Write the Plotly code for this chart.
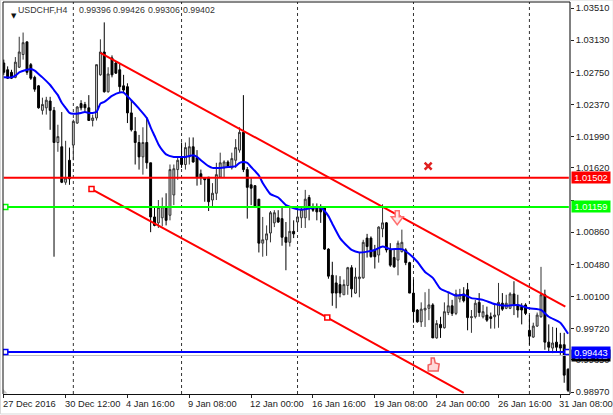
import plotly.graph_objects as go

opens = [1.0286,1.0278,1.0275,1.0269,1.0281,1.0296,1.0311,1.0284,1.0269,1.0259,
1.0230,1.0233,1.0241,1.0230,1.0192,1.0187,1.0145,1.0171,1.0189,1.0215,
1.0238,1.0237,1.0233,1.0218,1.0221,1.0272,1.0299,1.0252,1.0292,1.0286,
1.0278,1.0259,1.0258,1.0227,1.0205,1.0192,1.0175,1.0192,1.0168,1.0104,
1.0097,1.0103,1.0116,1.0106,1.0130,1.0160,1.0174,1.0166,1.0175,1.0187,
1.0174,1.0155,1.0150,1.0151,1.0124,1.0132,1.0151,1.0162,1.0169,1.0162,
1.0171,1.0183,1.0204,1.0160,1.0142,1.0141,1.0125,1.0073,1.0077,1.0085,
1.0097,1.0103,1.0102,1.0080,1.0074,1.0087,1.0098,1.0103,1.0103,1.0127,
1.0116,1.0116,1.0116,1.0115,1.0066,1.0035,1.0026,1.0024,1.0012,1.0023,
1.0044,1.0014,1.0031,1.0032,1.0079,1.0079,1.0065,1.0059,1.0090,1.0097,
1.0065,1.0056,1.0053,1.0063,1.0065,1.0050,1.0014,0.9994,0.9980,0.9994,
0.9996,1.0000,0.9961,0.9977,0.9973,0.9991,0.9999,0.9990,1.0007,1.0013,
1.0018,0.9985,0.9986,1.0003,0.9986,0.9988,0.9986,0.9986,0.9988,1.0002,
0.9996,0.9996,1.0013,1.0000,0.9998,1.0000,0.9970,0.9962,0.9975,0.9986,
1.0012,0.9956,0.9949,0.9956,0.9953,0.9953,0.9924]
highs = [1.0290,1.0282,1.0278,1.0293,1.0317,1.0322,1.0311,1.0286,1.0271,1.0260,
1.0245,1.0246,1.0246,1.0234,1.0213,1.0228,1.0194,1.0186,1.0219,1.0235,
1.0242,1.0240,1.0248,1.0225,1.0284,1.0314,1.0334,1.0281,1.0295,1.0288,
1.0286,1.0272,1.0262,1.0242,1.0222,1.0201,1.0210,1.0222,1.0168,1.0116,
1.0124,1.0127,1.0132,1.0166,1.0166,1.0174,1.0192,1.0192,1.0198,1.0198,
1.0183,1.0160,1.0151,1.0151,1.0144,1.0168,1.0180,1.0171,1.0171,1.0180,
1.0196,1.0210,1.0248,1.0163,1.0151,1.0141,1.0125,1.0104,1.0094,1.0111,
1.0112,1.0112,1.0116,1.0098,1.0116,1.0100,1.0115,1.0116,1.0136,1.0130,
1.0120,1.0120,1.0119,1.0115,1.0067,1.0051,1.0035,1.0034,1.0030,1.0045,
1.0047,1.0044,1.0062,1.0077,1.0084,1.0081,1.0071,1.0093,1.0119,1.0098,
1.0073,1.0065,1.0076,1.0089,1.0067,1.0051,1.0030,0.9995,1.0003,1.0015,
1.0019,1.0002,0.9982,0.9986,1.0003,1.0014,1.0006,1.0018,1.0019,1.0021,
1.0026,0.9994,1.0006,1.0014,1.0000,0.9998,0.9991,1.0002,1.0026,1.0014,
1.0012,1.0015,1.0028,1.0012,1.0002,1.0002,0.9988,0.9979,0.9991,1.0045,
1.0018,0.9977,0.9974,0.9973,0.9967,0.9967,0.9925]
lows = [1.0272,1.0267,1.0267,1.0268,1.0280,1.0290,1.0272,1.0266,1.0252,1.0232,
1.0225,1.0225,1.0207,1.0057,1.0181,1.0144,1.0142,1.0142,1.0171,1.0214,
1.0230,1.0228,1.0218,1.0211,1.0218,1.0271,1.0251,1.0251,1.0269,1.0273,
1.0251,1.0251,1.0215,1.0205,1.0166,1.0160,1.0154,1.0161,1.0086,1.0093,
1.0091,1.0093,1.0094,1.0100,1.0118,1.0148,1.0162,1.0160,1.0166,1.0168,
1.0141,1.0142,1.0122,1.0111,1.0115,1.0124,1.0150,1.0151,1.0162,1.0160,
1.0162,1.0180,1.0157,1.0102,1.0118,1.0116,1.0062,1.0057,1.0058,1.0074,
1.0092,1.0097,1.0070,1.0041,1.0069,1.0079,1.0087,1.0091,1.0091,1.0100,
1.0110,1.0100,1.0097,1.0065,1.0031,0.9999,0.9996,1.0009,1.0012,1.0012,
1.0009,1.0013,1.0009,1.0031,1.0056,1.0056,1.0043,1.0050,1.0080,1.0062,
1.0045,1.0044,1.0035,1.0062,1.0047,1.0014,0.9979,0.9979,0.9974,0.9974,
0.9982,0.9961,0.9960,0.9961,0.9972,0.9988,0.9987,0.9988,1.0003,1.0003,
0.9970,0.9967,0.9984,0.9986,0.9984,0.9980,0.9972,0.9972,0.9973,0.9993,
0.9995,0.9995,0.9988,0.9985,0.9977,0.9988,0.9953,0.9961,0.9974,0.9985,
0.9947,0.9945,0.9943,0.9945,0.9941,0.9908,0.9897]
closes = [1.0275,1.0268,1.0268,1.0287,1.0299,1.0310,1.0275,1.0268,1.0255,1.0233,
1.0237,1.0242,1.0230,1.0192,1.0199,1.0145,1.0150,1.0149,1.0217,1.0234,
1.0233,1.0233,1.0218,1.0221,1.0284,1.0299,1.0252,1.0273,1.0272,1.0274,
1.0258,1.0254,1.0227,1.0207,1.0192,1.0175,1.0192,1.0168,1.0104,1.0094,
1.0115,1.0116,1.0100,1.0160,1.0161,1.0171,1.0166,1.0186,1.0187,1.0169,
1.0151,1.0151,1.0148,1.0122,1.0132,1.0154,1.0168,1.0169,1.0163,1.0173,
1.0186,1.0204,1.0160,1.0139,1.0138,1.0117,1.0073,1.0077,1.0084,1.0109,
1.0109,1.0098,1.0080,1.0074,1.0087,1.0084,1.0104,1.0113,1.0125,1.0115,
1.0112,1.0110,1.0110,1.0066,1.0034,1.0014,1.0014,1.0014,1.0024,1.0044,
1.0019,1.0033,1.0033,1.0074,1.0069,1.0057,1.0057,1.0092,1.0097,1.0065,
1.0047,1.0045,1.0073,1.0074,1.0050,1.0014,0.9992,0.9980,0.9995,0.9996,
1.0000,0.9961,0.9978,0.9973,0.9992,0.9999,0.9990,1.0013,1.0012,1.0005,
0.9985,0.9986,1.0002,0.9991,0.9992,0.9982,0.9984,0.9988,1.0003,0.9995,
1.0002,1.0013,1.0000,0.9994,0.9994,0.9990,0.9963,0.9975,0.9988,1.0012,
0.9956,0.9950,0.9955,0.9950,0.9949,0.9917,0.9899]
bars = list(range(len(opens)))

ma_bars = [0,2,3,4,6,7,8,9,10,12,13,14,15,16,17,18,20,21,22,23,24,25,26,28,30,31,33,35,37,38,39,40,41,42,44,46,47,48,49,50,51,53,54,56,58,60,61,62,63,64,66,67,68,69,71,73,74,76,78,80,82,83,84,85,87,89,90,92,94,96,98,100,103,105,107,109,111,113,115,117,119,121,124,127,130,133,136,139,141,144,146]
ma_vals = [1.0269,1.0269,1.0271,1.0275,1.0278,1.0279,1.0277,1.0273,1.0269,1.0260,1.0254,1.0248,1.0239,1.0233,1.0227,1.0226,1.0227,1.0228,1.0227,1.0227,1.0228,1.0238,1.0240,1.0247,1.0251,1.0251,1.0242,1.0232,1.0221,1.0210,1.0200,1.0190,1.0183,1.0178,1.0175,1.0175,1.0175,1.0176,1.0177,1.0175,1.0171,1.0164,1.0162,1.0162,1.0163,1.0164,1.0168,1.0169,1.0168,1.0163,1.0153,1.0144,1.0137,1.0131,1.0127,1.0118,1.0116,1.0113,1.0113,1.0115,1.0115,1.0111,1.0105,1.0096,1.0079,1.0069,1.0065,1.0062,1.0063,1.0065,1.0069,1.0066,1.0066,1.0060,1.0051,1.0039,1.0032,1.0019,1.0015,1.0011,1.0012,1.0008,1.0006,1.0001,0.9999,1.0000,0.9996,0.9994,0.9986,0.9979,0.9966]

upper_bars = [25, 145.3]
upper_vals = [1.0298, 0.9998]
lower_bars = [22.7, 83.7, 119]
lower_vals = [1.0137, 0.9985, 0.9896]

red_level = 1.01502
green_level = 1.01159
blue_level = 0.99443
last_price = 0.99402

x_tick_bars = [0,16,32,48,64,80,96,112,128,144]
x_tick_text = ["27 Dec 2016","30 Dec 12:00","4 Jan 16:00","9 Jan 08:00","12 Jan 00:00",
               "16 Jan 16:00","19 Jan 08:00","24 Jan 00:00","26 Jan 16:00","31 Jan 08:00"]
y_ticks = [1.0351,1.0313,1.0275,1.0237,1.0199,1.0162,1.0124,1.0086,1.0048,1.0010,0.9972,0.9935,0.9897]
y_tick_text = ["1.03510","1.03130","1.02750","1.02370","1.01990","1.01620","","1.00860","1.00480","1.00100","0.99720","0.99350","0.98970"]
separator_bars = [18,46,76,106,136]
header = ["USDCHF,H4","0.99396","0.99426","0.99306","0.99402"]

FONT = "Liberation Sans"
FS = 9.3
XMIN, XMAX = -0.2, 146.5
YMIN, YMAX = 0.98947, 1.03581

fig = go.Figure()
fig.add_trace(go.Candlestick(
    x=bars, open=opens, high=highs, low=lows, close=closes,
    increasing=dict(line=dict(color="#333333", width=1), fillcolor="#d0d0d0"),
    decreasing=dict(line=dict(color="#000000", width=1), fillcolor="#000000"),
    whiskerwidth=0, showlegend=False))
fig.add_trace(go.Scatter(x=ma_bars, y=ma_vals, mode="lines",
    line=dict(color="#0000ff", width=2, shape="spline", smoothing=0.5), showlegend=False))
fig.add_trace(go.Scatter(x=[XMIN, XMAX], y=[last_price]*2, mode="lines",
    line=dict(color="#c0c0c0", width=1), showlegend=False))

square = lambda c: dict(symbol="square", size=5, color="#ffffff", line=dict(color=c, width=1.5))
fig.add_trace(go.Scatter(x=upper_bars, y=upper_vals, mode="lines",
    line=dict(color="#ff0000", width=2), showlegend=False))
fig.add_trace(go.Scatter(x=lower_bars, y=lower_vals, mode="lines",
    line=dict(color="#ff0000", width=2), showlegend=False))
fig.add_trace(go.Scatter(x=lower_bars[:2], y=lower_vals[:2], mode="markers",
    marker=square("#ff0000"), showlegend=False))
for lvl, col in [(red_level, "#ff0000"), (green_level, "#00ff00"), (blue_level, "#0000ff")]:
    fig.add_trace(go.Scatter(x=[0, XMAX-0.3], y=[lvl]*2, mode="lines",
        line=dict(color=col, width=2), showlegend=False))
fig.add_trace(go.Scatter(x=[0.4], y=[green_level], mode="markers", marker=square("#00ff00"), showlegend=False))
fig.add_trace(go.Scatter(x=[0.4, 145.8], y=[blue_level]*2, mode="markers", marker=square("#0000ff"), showlegend=False))
fig.add_trace(go.Scatter(x=[109.8], y=[1.0164], mode="markers",
    marker=dict(symbol="x-thin", size=7, line=dict(color="#e02020", width=2.5)), showlegend=False))
fig.add_trace(go.Scatter(x=[0.2], y=[0.9897], mode="markers",
    marker=dict(symbol="triangle-sw", size=5, color="#c8c8c8"), showlegend=False))

shapes = [dict(type="line", xref="x", yref="paper", x0=b, x1=b, y0=0, y1=1, layer="below",
               line=dict(color="#333333", width=1, dash="3px,3px")) for b in separator_bars]
shapes += [
    dict(type="line", xref="paper", yref="paper", x0=1, x1=1, y0=0, y1=1, line=dict(color="#808080", width=2)),
    dict(type="rect", xref="paper", yref="paper", x0=-0.0044, x1=1.0762, y0=-0.0510, y1=1.0051,
         line=dict(color="#d8d8d8", width=1), layer="below"),
    dict(type="line", xref="paper", yref="paper", x0=0, x1=1, y0=1, y1=1, line=dict(color="#111111", width=1)),
    dict(type="line", xref="paper", yref="paper", x0=0, x1=0, y0=0, y1=1, line=dict(color="#111111", width=1)),
    dict(type="path", xref="x", yref="y", xsizemode="pixel", ysizemode="pixel", xanchor=101.8, yanchor=1.0103,
         path="M-2,7 L2,7 L2,1 L6,1 L0,-7 L-6,1 L-2,1 Z", fillcolor="#ffe8e8", line=dict(color="#ff7070", width=1.5)),
    dict(type="path", xref="x", yref="y", xsizemode="pixel", ysizemode="pixel", xanchor=111.1, yanchor=0.9929,
         path="M-5,-6 L-5,0 L-2,1 L-2,7 L1,7 L2,2 L6,1 L5,-6 Z", fillcolor="#ffd8d8", line=dict(color="#f06060", width=1.5)),
]

ann = []
for b, t in zip(x_tick_bars, x_tick_text):
    ann.append(dict(x=b, y=-0.006, xref="x", yref="paper", text=t, showarrow=False, xanchor="left",
                    yanchor="top", xshift=-3, yshift=-1, font=dict(family=FONT, size=FS, color="#222222")))
hx = [0.0235, 0.1305, 0.1905, 0.2525, 0.3145]
for xp, t in zip(hx, header):
    ann.append(dict(x=xp, y=0.980, xref="paper", yref="paper", text=t, showarrow=False, xanchor="left",
                    yanchor="middle", font=dict(family=FONT, size=8.8, color="#333333")))
ann.append(dict(x=0.0105, y=0.980, xref="paper", yref="paper", text="▼", showarrow=False,
                font=dict(family="DejaVu Sans", size=7, color="#111111")))
for lvl, col, t in [(last_price, "#000000", "0.99402"), (red_level, "#ff0000", "1.01502"),
                    (green_level, "#00ff00", "1.01159"), (blue_level, "#0000ff", "0.99443")]:
    ann.append(dict(x=1.0005, y=lvl, xref="paper", yref="y", text=t, showarrow=False, xanchor="left",
                    width=38, height=11, bgcolor=col, borderpad=0, xshift=1,
                    font=dict(family=FONT, size=FS, color="#ffffff")))

fig.update_layout(
    width=613, height=415, autosize=False,
    margin=dict(l=2.5, r=43, t=2, b=21, pad=0),
    paper_bgcolor="#ffffff", plot_bgcolor="#ffffff",
    xaxis=dict(range=[XMIN, XMAX], rangeslider=dict(visible=False), showgrid=False, zeroline=False,
               tickvals=x_tick_bars, ticktext=[""]*len(x_tick_bars), ticks="outside", ticklen=3, tickcolor="#222222",
               showline=True, linecolor="#111111", linewidth=1, mirror=False),
    yaxis=dict(range=[YMIN, YMAX], side="right", showgrid=False, zeroline=False,
               tickvals=y_ticks, ticktext=y_tick_text, ticks="outside", ticklen=3,
               tickcolor="#222222", showline=False,
               tickfont=dict(family=FONT, size=FS, color="#222222")),
    shapes=shapes, annotations=ann, showlegend=False)

fig.write_html("out.html", post_script="document.body.style.margin='0';document.body.style.overflow='hidden';",
               config=dict(displayModeBar=False))
